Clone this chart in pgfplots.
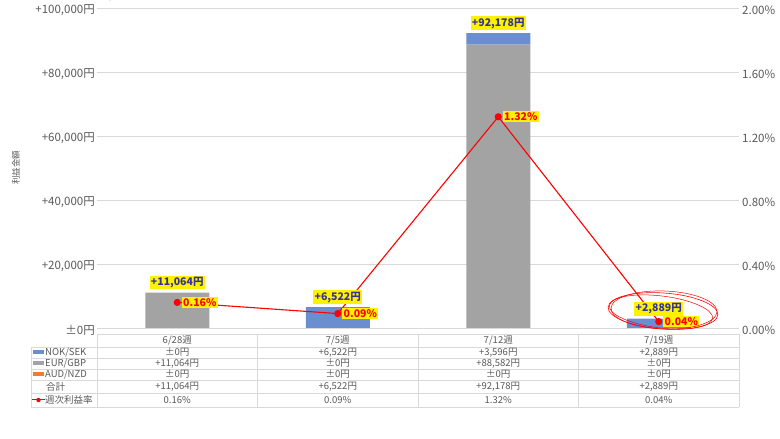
\documentclass[border=0pt]{standalone}
\usepackage{fontspec}
\setmainfont{Noto Sans CJK JP}
\usepackage{pgfplots}
\pgfplotsset{compat=1.18}
\definecolor{txt}{HTML}{595959}
\definecolor{gridc}{HTML}{D9D9D9}
\definecolor{bblue}{HTML}{6A8ED0}
\definecolor{bgrey}{HTML}{A3A3A3}
\definecolor{borange}{HTML}{ED7D31}
\definecolor{lblue}{HTML}{3333A0}
\begin{document}
\begin{tikzpicture}[x=1bp,y=1bp]
% ---------- bars ----------
\begin{axis}[at={(97bp,111bp)}, anchor=south west, scale only axis,
  width=642bp, height=320bp,
  xmin=-0.5, xmax=3.5, ymin=0, ymax=100000,
  ybar stacked, bar width=64bp,
  axis line style={draw=none}, major tick length=0pt,
  xtick=\empty,
  ytick={0,20000,40000,60000,80000,100000},
  yticklabels={±0円,{+20,000円},{+40,000円},{+60,000円},{+80,000円},{+100,000円}},
  yticklabel style={font=\fontsize{11.5bp}{12bp}\selectfont, text=txt, xshift=-2bp, yshift=-2.5bp, inner sep=0pt},
  ymajorgrids, grid style={gridc, line width=0.8bp},
  clip=false]
\addplot[fill=bgrey, draw=none] coordinates {(0,11064) (1,0) (2,88582) (3,0)};
\addplot[fill=bblue, draw=none] coordinates {(0,0) (1,6522) (2,3596) (3,2889)};
\addplot[fill=borange, draw=none] coordinates {(0,0) (1,0) (2,0) (3,0)};
\end{axis}
% ---------- weekly rate ----------
\begin{axis}[at={(97bp,111bp)}, anchor=south west, scale only axis,
  width=642bp, height=320bp,
  xmin=-0.5, xmax=3.5, ymin=0, ymax=2,
  axis x line=none, axis y line*=right,
  axis line style={draw=none}, major tick length=0pt,
  ytick={0,0.4,0.8,1.2,1.6,2.0},
  yticklabels={0.00\%,0.40\%,0.80\%,1.20\%,1.60\%,2.00\%},
  yticklabel style={font=\fontsize{11.5bp}{12bp}\selectfont, text=txt, xshift=3bp, yshift=-2.5bp, inner sep=0pt},
  clip=false]
\addplot[red, line width=1.1bp, mark=*, mark size=3bp, mark options={fill=red},
  point meta=explicit symbolic, nodes near coords,
  nodes near coords style={anchor=west, xshift=4bp, fill=yellow, text=red,
    font=\bfseries\fontsize{10.5bp}{11bp}\selectfont, inner sep=1.4bp}]
  coordinates {(0,0.16)[0.16\%] (1,0.09)[0.09\%] (2,1.32)[1.32\%] (3,0.04)[0.04\%]};
\end{axis}
% ---------- total labels ----------
\begin{axis}[at={(97bp,111bp)}, anchor=south west, scale only axis,
  width=642bp, height=320bp,
  xmin=-0.5, xmax=3.5, ymin=0, ymax=100000, hide axis, clip=false]
\addplot[draw=none, mark=none, point meta=explicit symbolic, nodes near coords,
  nodes near coords style={anchor=south, yshift=3bp, fill=yellow, text=lblue,
    font=\bfseries\fontsize{10.5bp}{11bp}\selectfont, inner sep=1.4bp}]
  coordinates {(0,11064)[+11,064円] (1,6522)[+6,522円] (2,92178)[+92,178円] (3,2889)[+2,889円]};
\end{axis}
% ---------- annotation ellipses ----------
\draw[red, line width=0.6bp, rotate around={-4:(663,128)}] (663,128) ellipse (55 and 18);
\draw[red, line width=0.5bp, rotate around={-7:(661,127)}] (661,127) ellipse (52 and 16);
\draw[red, line width=0.5bp, rotate around={-2:(664,129)}] (664,129) ellipse (53 and 19);
% ---------- y label ----------
\node[rotate=90, text=txt, font=\fontsize{8.5bp}{9bp}\selectfont] at (16,271) {利益金額};
% ---------- data table ----------
\begin{scope}[gridc, line width=0.8bp]
\draw (97,105) -- (739,105);
\foreach \yy in {92,81,70,59,46,32} \draw (31,\yy) -- (739,\yy);
\foreach \xx in {97,257.5,418,578.5,739} \draw (\xx,105) -- (\xx,32);
\draw (31,92) -- (31,32);
\end{scope}
\begin{scope}[every node/.style={text=txt, font=\fontsize{9.5bp}{10bp}\selectfont, inner sep=0pt}]
\node at (177.25,99) {6/28週};
\node at (337.75,99) {7/5週};
\node at (498.25,99) {7/12週};
\node at (658.75,99) {7/19週};
% NOK/SEK
\node at (177.25,86.5) {±0円};
\node at (337.75,86.5) {+6,522円};
\node at (498.25,86.5) {+3,596円};
\node at (658.75,86.5) {+2,889円};
% EUR/GBP
\node at (177.25,75.5) {+11,064円};
\node at (337.75,75.5) {±0円};
\node at (498.25,75.5) {+88,582円};
\node at (658.75,75.5) {±0円};
% AUD/NZD
\node at (177.25,64.5) {±0円};
\node at (337.75,64.5) {±0円};
\node at (498.25,64.5) {±0円};
\node at (658.75,64.5) {±0円};
% total
\node at (177.25,52.5) {+11,064円};
\node at (337.75,52.5) {+6,522円};
\node at (498.25,52.5) {+92,178円};
\node at (658.75,52.5) {+2,889円};
% rate
\node at (177.25,39) {0.16\%};
\node at (337.75,39) {0.09\%};
\node at (498.25,39) {1.32\%};
\node at (658.75,39) {0.04\%};
% row labels
\node[anchor=west] at (45,86.5) {NOK/SEK};
\node[anchor=west] at (45,75.5) {EUR/GBP};
\node[anchor=west] at (45,64.5) {AUD/NZD};
\node[anchor=west] at (46,52.5) {合計};
\node[anchor=west] at (45,39) {週次利益率};
\end{scope}
\fill[bblue] (33,84.5) rectangle (44,88.5);
\fill[bgrey] (33,73.5) rectangle (44,77.5);
\fill[borange] (33,62.5) rectangle (44,66.5);
\draw[red, line width=1bp] (32,39) -- (45,39);
\fill[red] (38.5,39) circle (2.2);
\pgfresetboundingbox
\useasboundingbox (0,0) rectangle (780,439);
\end{tikzpicture}
\end{document}
